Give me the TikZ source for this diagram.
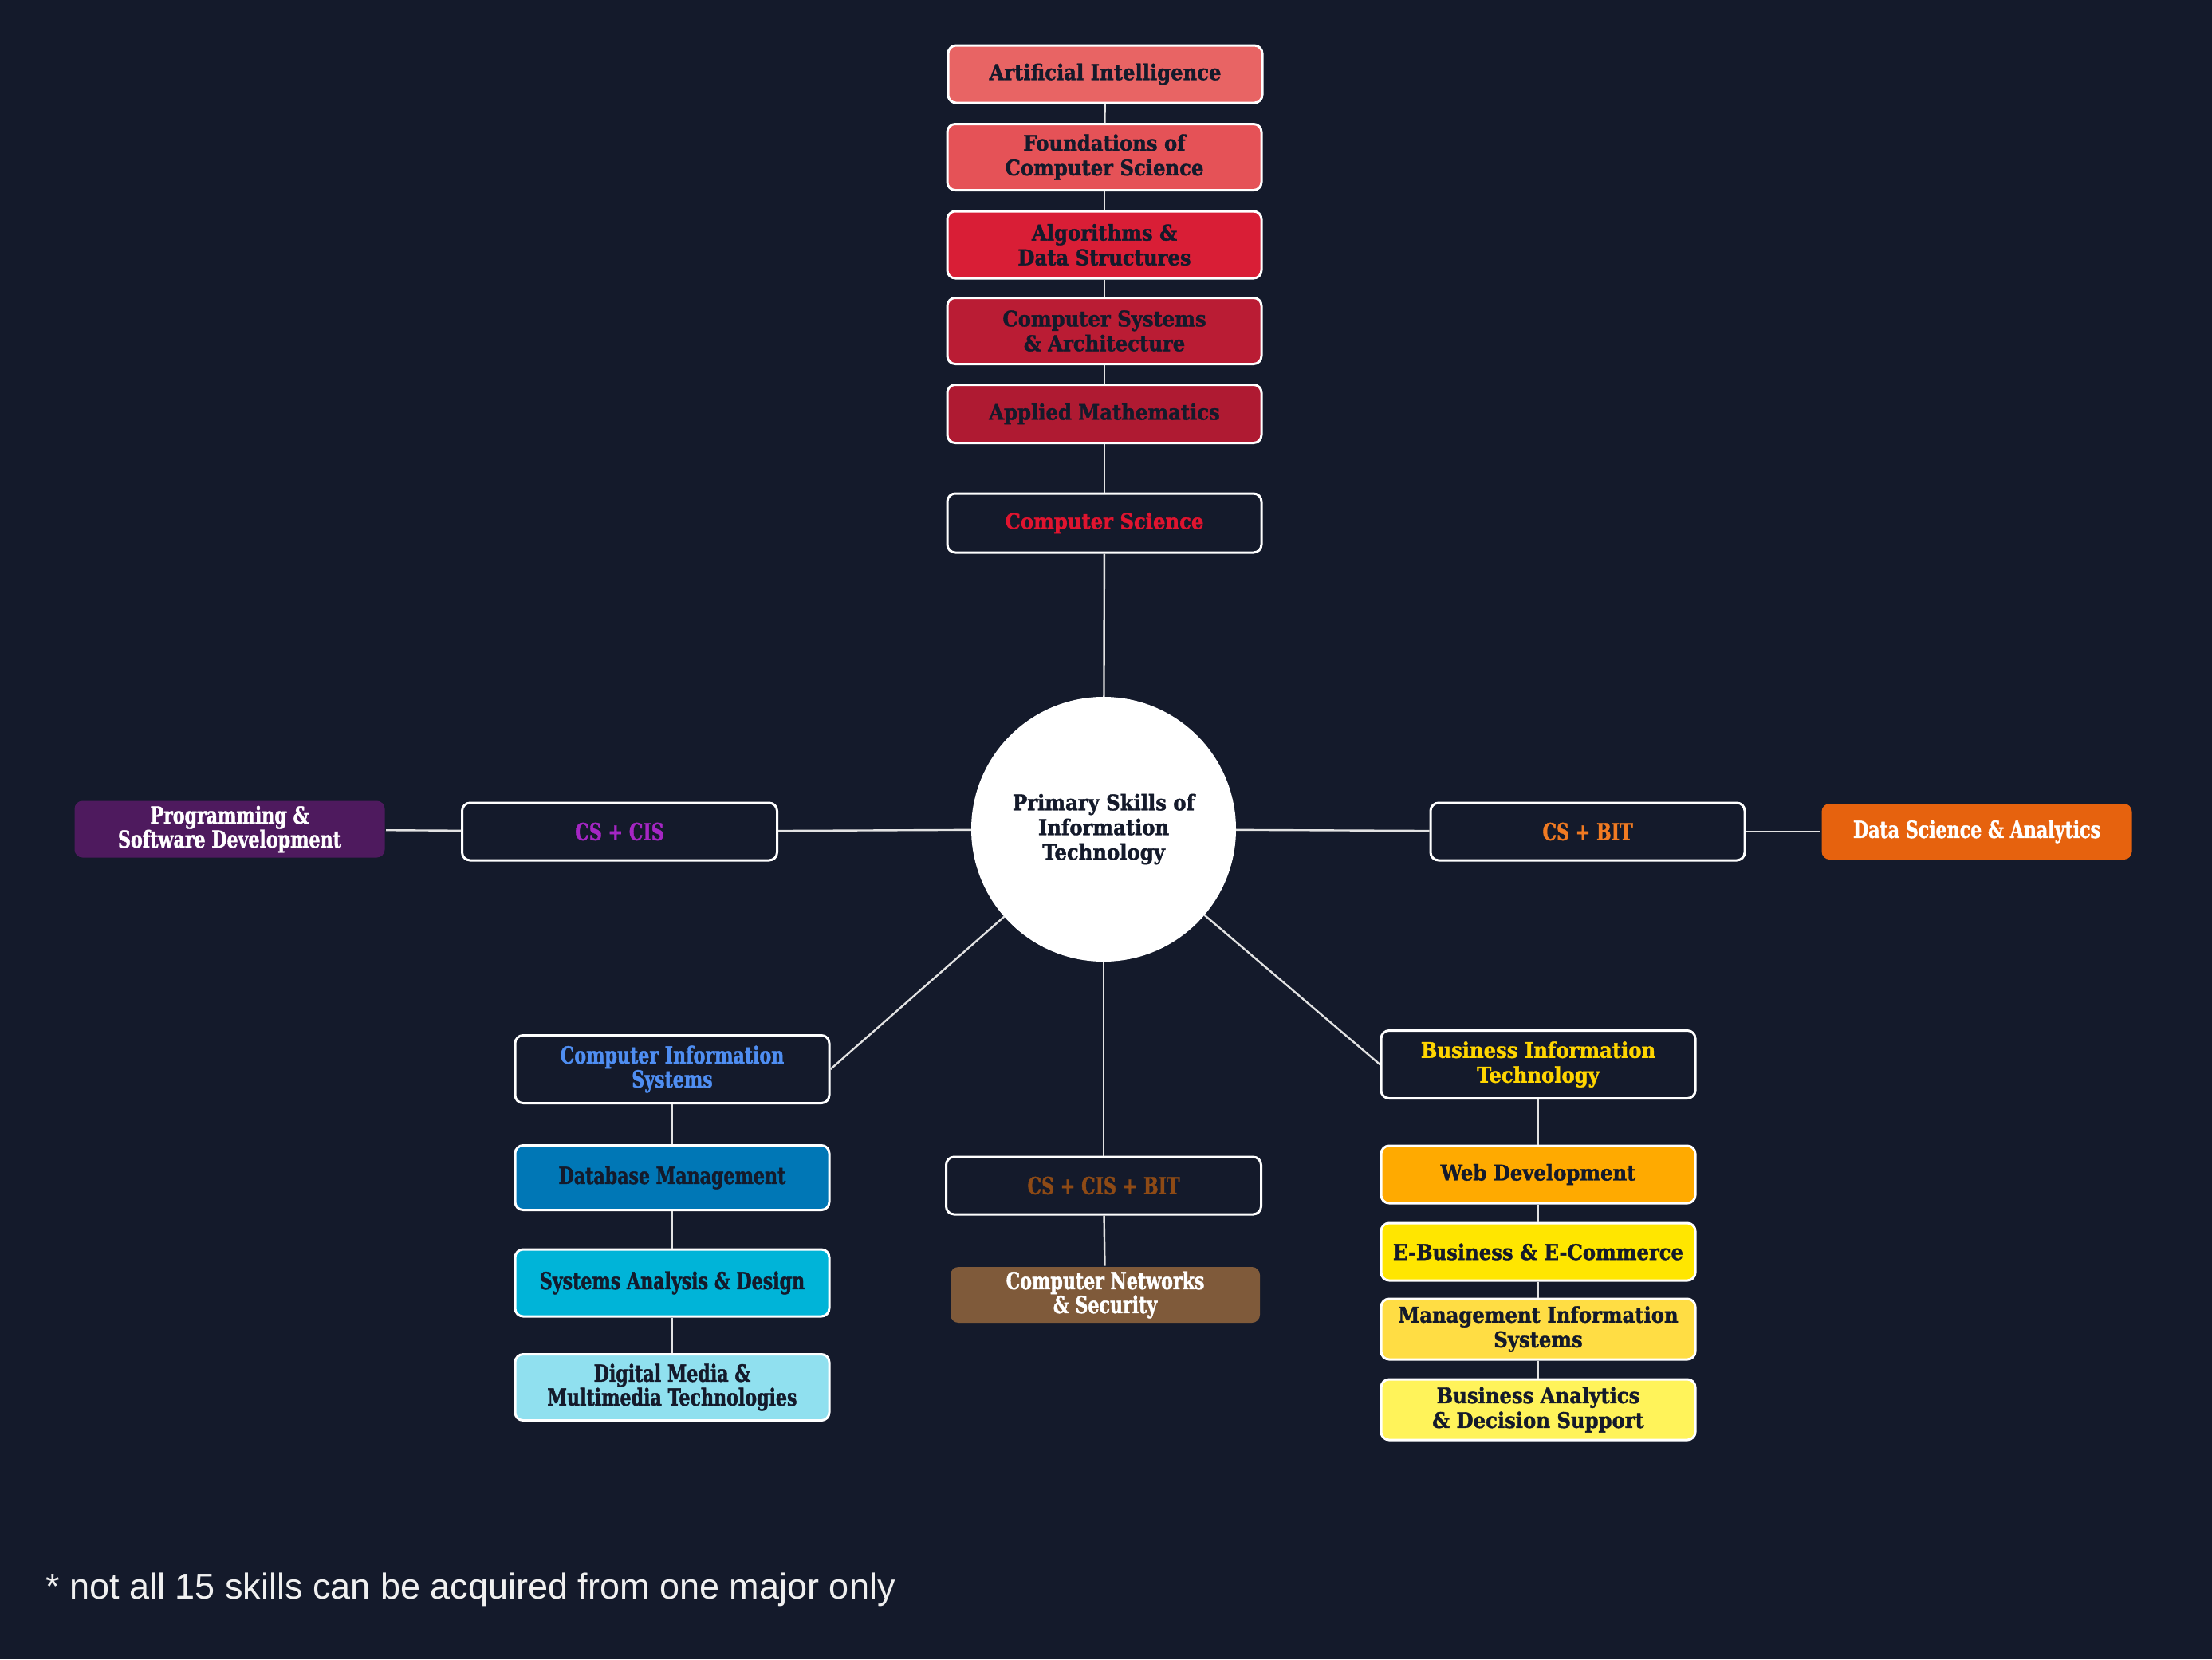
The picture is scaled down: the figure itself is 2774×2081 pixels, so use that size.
\documentclass[tikz,border=0pt]{standalone}
\usepackage{fontspec}
\setmainfont{DejaVu Serif}
\setsansfont{Liberation Sans}
\newfontfamily\slab{DejaVu Serif}[FakeStretch=0.9,FakeBold=1.4]
\newfontfamily\cond{DejaVu Serif}[FakeStretch=0.75,FakeBold=1.4]
\definecolor{bg}{HTML}{141A2B}
\definecolor{navy}{HTML}{141A2B}
\definecolor{linec}{HTML}{E2E2E2}
\definecolor{cAI}{HTML}{E86464}
\definecolor{cFO}{HTML}{E55257}
\definecolor{cAL}{HTML}{D91E36}
\definecolor{cSY}{HTML}{BA1C34}
\definecolor{cAM}{HTML}{AF1A32}
\definecolor{tCS}{HTML}{E0142F}
\definecolor{tCC}{HTML}{A526C4}
\definecolor{cPR}{HTML}{4E1A5E}
\definecolor{tCB}{HTML}{F07A22}
\definecolor{cDS}{HTML}{E6620E}
\definecolor{tCI}{HTML}{4F8EF2}
\definecolor{cDB}{HTML}{0077B6}
\definecolor{cSA}{HTML}{00B4D8}
\definecolor{cDM}{HTML}{90E0EF}
\definecolor{tAL}{HTML}{8E4A15}
\definecolor{cNS}{HTML}{7F5A3A}
\definecolor{tBI}{HTML}{FFD500}
\definecolor{cWD}{HTML}{FFAA00}
\definecolor{cEB}{HTML}{FFE600}
\definecolor{cMI}{HTML}{FFDD44}
\definecolor{cBA}{HTML}{FFF35A}
\tikzset{
  base/.style={rectangle, rounded corners=10pt, minimum width=394pt, align=center, inner sep=0pt, line width=3pt},
  hub/.style={base, draw=white, fill=bg},
  skill/.style={base, draw=white, text=navy},
  plainbox/.style={base, draw=none, text=white},
  sl/.style={font=\slab\bfseries\fontsize{27}{31}\selectfont},
  cd/.style={font=\cond\bfseries\fontsize{29.5}{30}\selectfont},
  link/.style={draw=linec, line width=2.4pt}
}
\begin{document}
\begin{tikzpicture}[x=1pt,y=-1pt]
\fill[bg] (0,0) rectangle (2774,2081);
\useasboundingbox (0,0) rectangle (2774,2081);

% Computer Science column
\node[skill, sl, fill=cAI, minimum height=72pt] (ai) at (1386,93) {Artificial Intelligence};
\node[skill, sl, fill=cFO, minimum height=83pt] (fo) at (1385,197) {Foundations of\\Computer Science};
\node[skill, sl, fill=cAL, minimum height=84pt] (al) at (1385,307) {Algorithms \&\\Data Structures};
\node[skill, sl, fill=cSY, minimum height=83pt] (sy) at (1385,415) {Computer Systems\\\& Architecture};
\node[skill, sl, fill=cAM, minimum height=73pt] (am) at (1385,519) {Applied Mathematics};
\node[hub, sl, text=tCS, minimum height=74pt] (cs) at (1385,656) {Computer Science};

% centre
\node[circle, fill=white, minimum size=332pt, inner sep=0pt, align=center, text=navy,
      font=\slab\bfseries\fontsize{27}{31}\selectfont] (hub) at (1384,1040)
      {Primary Skills of\\Information\\Technology};

% left
\node[hub, cd, text=tCC, minimum width=395pt, minimum height=72pt] (cscis) at (777,1043) {CS + CIS};
\node[plainbox, cd, fill=cPR, minimum width=389pt, minimum height=71pt] (prog) at (288,1040) {Programming \&\\Software Development};

% right
\node[hub, cd, text=tCB, minimum height=72pt] (csbit) at (1991,1043) {CS + BIT};
\node[plainbox, cd, fill=cDS, minimum width=389pt, minimum height=70pt] (ds) at (2479,1043) {Data Science \& Analytics};

% CIS column
\node[hub, cd, text=tCI, minimum height=85pt] (cis) at (843,1341) {Computer Information\\Systems};
\node[skill, cd, fill=cDB, minimum height=81pt] (db) at (843,1477) {Database Management};
\node[skill, cd, fill=cSA, minimum height=84pt] (sa) at (843,1609) {Systems Analysis \& Design};
\node[skill, cd, fill=cDM, minimum height=83pt] (dm) at (843,1740) {Digital Media \&\\Multimedia Technologies};

% middle bottom
\node[hub, cd, text=tAL, minimum width=395pt, minimum height=72pt] (all) at (1384,1487) {CS + CIS + BIT};
\node[plainbox, cd, fill=cNS, minimum width=388pt, minimum height=70pt] (net) at (1386,1624) {Computer Networks\\\& Security};

% BIT column
\node[hub, sl, text=tBI, minimum height=85pt] (bit) at (1929,1335) {Business Information\\Technology};
\node[skill, sl, fill=cWD, minimum height=72pt] (wd) at (1929,1473) {Web Development};
\node[skill, sl, fill=cEB, minimum height=72pt] (eb) at (1929,1570) {E-Business \& E-Commerce};
\node[skill, sl, fill=cMI, minimum height=76pt] (mi) at (1929,1667) {Management Information\\Systems};
\node[skill, sl, fill=cBA, minimum height=76pt] (ba) at (1929,1768) {Business Analytics\\\& Decision Support};

% footnote
\node[anchor=west, inner sep=0pt, text=white!94!black, font=\sffamily\fontsize{45}{50}\selectfont] (note) at (57,1994)
  {* not all 15 skills can be acquired from one major only};

% connectors
\draw[link] (ai) -- (fo);
\draw[link] (fo) -- (al);
\draw[link] (al) -- (sy);
\draw[link] (sy) -- (am);
\draw[link] (am) -- (cs);
\draw[link] (cs) -- (hub);
\draw[link] (hub) -- (cscis);
\draw[link] (cscis) -- (prog);
\draw[link] (hub) -- (csbit);
\draw[link] (csbit) -- (ds);
\draw[link] (hub) -- (cis.east);
\draw[link] (cis) -- (db);
\draw[link] (db) -- (sa);
\draw[link] (sa) -- (dm);
\draw[link] (hub) -- (all);
\draw[link] (all) -- (net);
\draw[link] (hub) -- (bit.west);
\draw[link] (bit) -- (wd);
\draw[link] (wd) -- (eb);
\draw[link] (eb) -- (mi);
\draw[link] (mi) -- (ba);
\end{tikzpicture}
\end{document}
